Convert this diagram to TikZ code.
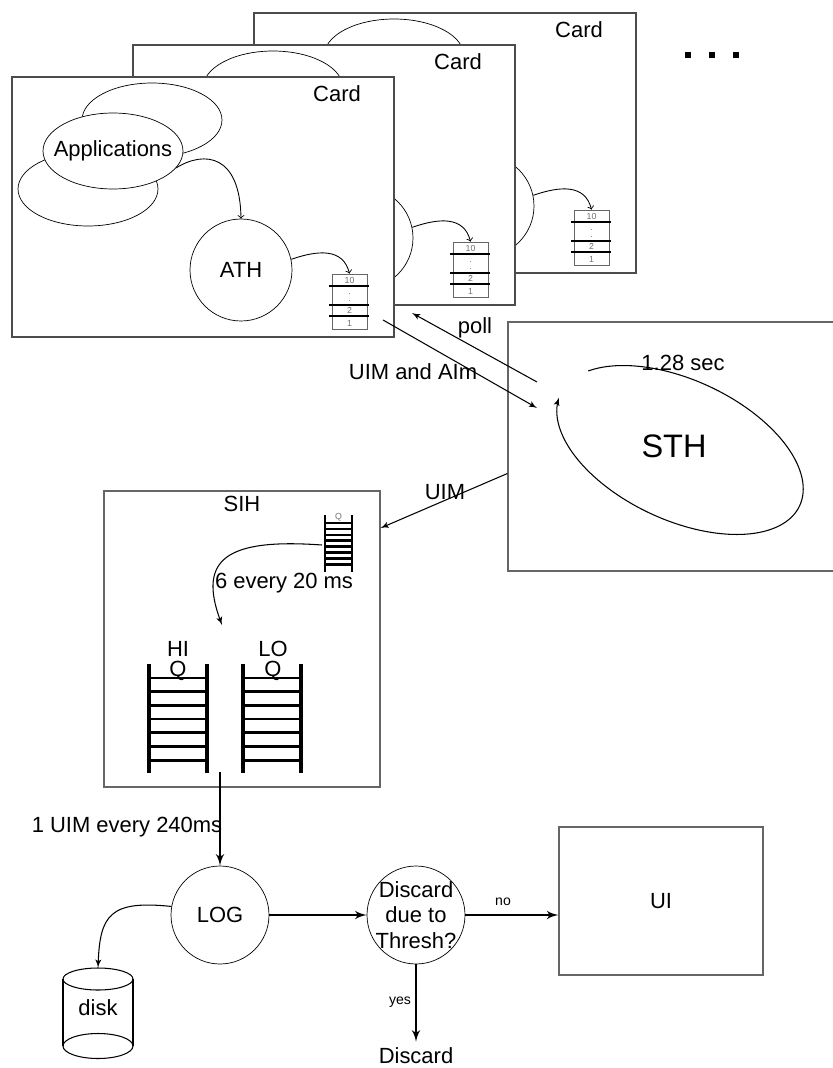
\documentclass[tikz,border=0pt]{standalone}
\usepackage{fontspec}
\setmainfont{Liberation Sans}
\usetikzlibrary{shapes,arrows,positioning,calc}

\begin{document}
\begin{tikzpicture}[
    x=0.02cm, y=-0.02cm,
    font=\fontsize{12.5}{15}\selectfont,
    box/.style={rectangle, draw=black!60, line width=0.7pt, fill=white, inner sep=0},
    blob/.style={ellipse, draw, fill=white, inner sep=0, minimum width=2.8cm, minimum height=1.48cm},
    circ/.style={circle, draw, fill=white, inner sep=0},
    qbox/.style={rectangle, draw=black!60, line width=0.5pt, inner sep=0, minimum width=0.7cm, minimum height=1.1cm},
    qtxt/.style={font=\fontsize{5}{5}\selectfont, text=black!55, inner sep=0},
    qbar/.style={line width=1.3pt},
    rail/.style={line width=2pt},
    rung/.style={line width=1.5pt},
    arrow/.style={->, line width=1.3pt, >=latex'},
    thinarrow/.style={->, line width=0.6pt, >=latex'},
    cardarrow/.style={->, line width=0.5pt},
    small/.style={font=\fontsize{8}{9}\selectfont}
]
\useasboundingbox (0,0) rectangle (832,1068);

% the stack of cards, back to front (only the front one shows its texts)
\foreach \i/\dx/\dy in {3/242/-64, 2/121/-32, 1/0/0} {
  \begin{scope}[shift={(\dx,\dy)}]
    \node[box, draw=black!70, minimum width=7.64cm, minimum height=5.2cm] (frame\i) at (203,207) {};
    \node (cardlbl\i) at (337,94) {Card};
    \node[blob] (appback\i) at (152,120) {};
    \node[blob] (applow\i) at (88,189) {};
    \node[blob, minimum height=1.52cm] (apps\i) at (113,151) {};
    \ifnum\i=1 \node (appslbl) at (apps1) {Applications}; \fi
    \node[circ, minimum size=2.04cm] (ath\i) at (241,270) {};
    \ifnum\i=1 \node (athlbl) at (ath1) {ATH}; \fi
    \node[qbox] (queue\i) at (349.5,301.5) {};
    \foreach \qy in {286,305,316} \draw[qbar] (329,\qy) -- (369,\qy);
    \node[qtxt] (qten\i) at (349.5,280) {10};
    \node[qtxt] (qdots\i) at (349.5,296) {$\vdots$};
    \node[qtxt] (qtwo\i) at (349.5,310.5) {2};
    \node[qtxt] (qone\i) at (349.5,323) {1};
    \draw[cardarrow] (apps\i.-15) .. controls (205,150) and (240,155) .. (ath\i.north);
    \draw[cardarrow] (ath\i.12) .. controls (318,250) and (343,248) .. (queue\i.north);
  \end{scope}
}
\foreach \mx in {688,712,736} \fill ({\mx-3},52) rectangle ({\mx+3},58);

% STH
\node[box, minimum width=6.64cm, minimum height=4.98cm, font=\fontsize{18.5}{20}\selectfont] (sth) at (674,446.5) {STH};
\draw[thinarrow] plot[domain=208:537, samples=120, smooth]
    ({680+132*cos(\x)*cos(25)-70*sin(\x)*sin(25)}, {450+132*cos(\x)*sin(25)+70*sin(\x)*cos(25)});
\node (period) at (683,363) {1.28 sec};

\coordinate (pollfrom) at (537,382);
\coordinate (pollto) at (412,313);
\coordinate (uimfrom) at (383,320);
\coordinate (uimto) at (537,408);
\draw[thinarrow] (pollfrom) -- (pollto);
\draw[thinarrow] (uimfrom) -- (uimto);
\node (polllbl) at (475,328) {poll};
\node (uimlbl) at (413,372) {UIM and AIm};

% SIH
\node[box, minimum width=5.52cm, minimum height=5.92cm] (sih) at (242,639) {};
\node[below=0pt of sih.north] (sihlbl) {SIH};
\draw[thinarrow] ([yshift=-0.54cm]sth.west) -- ([yshift=2.22cm]sih.east);
\node (uimsih) at (445,492) {UIM};

\draw[rail, line width=1.6pt] (325,515) -- (325,572) (352,515) -- (352,572);
\foreach \k in {0,...,7} \draw[rung, line width=1.4pt] (325,523+5.9*\k) -- (352,523+5.9*\k);
\node[qtxt] (smallqlbl) at (338.5,517) {Q};

\foreach \lx in {149,243} {
  \draw[rail] (\lx,664) -- (\lx,773) (\lx+58,664) -- (\lx+58,773);
  \foreach \k in {0,...,6} \draw[rung] (\lx,678+13.7*\k) -- (\lx+58,678+13.7*\k);
}
\node[align=center, font=\fontsize{12.5}{11}\selectfont] (hilbl) at (178,661) {HI\\Q};
\node[align=center, font=\fontsize{12.5}{11}\selectfont] (lolbl) at (273,661) {LO\\Q};

\coordinate (smallq) at (322,545);
\coordinate (hiin) at (222,625);
\draw[thinarrow] (smallq) .. controls (225,538) and (198,560) .. (hiin);
\node (rate) at (284,583) {6 every 20 ms};

% output side
\node[circ, minimum size=1.96cm] (log) at (220,915) {LOG};
\node[circ, minimum size=1.96cm, label={[align=center, font=\fontsize{12.5}{14.5}\selectfont]center:Discard\\due to\\Thresh?}] (thresh) at (416,915) {};
\node[box, minimum width=4.08cm, minimum height=2.96cm] (ui) at (661,901) {UI};
\node (discard) at (416,1056) {Discard};
\node[inner sep=0, minimum width=1.4cm, minimum height=1.6cm] (disk) at (98,1008) {disk};
\draw[line width=0.6pt] (63,979) -- (63,1046) (133,979) -- (133,1046);
\draw[line width=0.6pt] (98,979) ellipse [x radius=35, y radius=11];
\draw[line width=0.6pt] (98,1046) ellipse [x radius=35, y radius=12.5];

\coordinate (sihout) at (220,772);
\draw[arrow] (sihout) -- (log);
\node (uimrate) at (127,827) {1 UIM every 240ms};
\draw[thinarrow] (log.170) .. controls (110,900) and (100,915) .. (disk.north);
\draw[arrow] (log) -- (thresh);
\draw[arrow] (thresh.east) -- (thresh.east -| ui.west);
\draw[arrow] (thresh) -- (discard);
\node[small] (no) at (503,902) {no};
\node[small] (yes) at (400,1002) {yes};
\end{tikzpicture}
\end{document}
